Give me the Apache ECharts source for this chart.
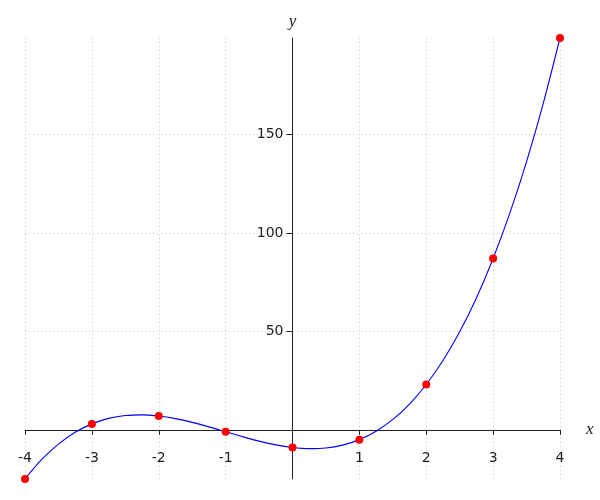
<!DOCTYPE html>
<html>
<head>
<meta charset="utf-8">
<script src="https://cdn.jsdelivr.net/npm/echarts@6/dist/echarts.min.js"></script>
<style>html,body{margin:0;padding:0;background:#fff}#c{width:600px;height:500px}</style>
</head>
<body>
<div id="c"></div>
<script>
// Sample points (red dots)
var pointX = [-4, -3, -2, -1, 0, 1, 2, 3, 4];
var pointY = [-25, 3, 7, -1, -9, -5, 23, 87, 199];

// Curve values
var curveX = [-4, -3.75, -3.5, -3.25, -3, -2.75, -2.5, -2.25, -2, -1.75, -1.5, -1.25, -1, -0.75, -0.5, -0.25, 0,
              0.25, 0.5, 0.75, 1, 1.25, 1.5, 1.75, 2, 2.25, 2.5, 2.75, 3, 3.25, 3.5, 3.75, 4];
var curveY = [-25, -15.09, -7.25, -1.28, 3, 5.78, 7.25, 7.59, 7, 5.66, 3.75, 1.47, -1, -3.47, -5.75, -7.66, -9,
              -9.59, -9.25, -7.78, -5, -0.72, 5.25, 13.09, 23, 35.16, 49.75, 66.97, 87, 110.03, 136.25, 165.84, 199];

// Tick values
var yTickValues = [50, 100, 150];
var xTickHidden = [0];

var curveData = curveX.map(function (x, i) { return [x, curveY[i]]; });
var pointData = pointX.map(function (x, i) { return [x, pointY[i]]; });

var labelFont = { fontFamily: 'DejaVu Sans', fontSize: 14, color: '#222' };
var nameFont = { fontFamily: 'Liberation Serif', fontStyle: 'italic', fontSize: 17, color: '#222' };

var G = { left: 25, right: 40, top: 38, bottom: 21 };
var XMIN = -4, XMAX = 4, YMIN = -25, YMAX = 199;
// axis offsets so that axes cross at the origin
var gw = 600 - G.left - G.right, gh = 500 - G.top - G.bottom;
var yAxisOffset = -((0 - XMIN) / (XMAX - XMIN)) * gw;
var xAxisOffset = -((0 - YMIN) / (YMAX - YMIN)) * gh;

var chart = echarts.init(document.getElementById('c'), null, { renderer: 'canvas' });
chart.setOption({
  animation: false,
  backgroundColor: '#fff',
  grid: { left: G.left, right: G.right, top: G.top, bottom: G.bottom, containLabel: false, outerBoundsMode: 'none' },
  xAxis: {
    type: 'value', min: XMIN, max: XMAX, interval: 1, position: 'bottom', offset: xAxisOffset,
    name: 'x', nameLocation: 'end', nameGap: 26, nameTextStyle: nameFont,
    axisLine: { onZero: false, lineStyle: { color: '#222', width: 1 } },
    axisTick: { show: true, length: 5, lineStyle: { color: '#222' } },
    axisLabel: Object.assign({ margin: 22, formatter: function (v) { return xTickHidden.indexOf(v) >= 0 ? '' : String(v); } }, labelFont),
    splitLine: { show: true, lineStyle: { color: '#c8c8c8', type: [1, 3], width: 1 } }
  },
  yAxis: {
    type: 'value', min: YMIN, max: YMAX, position: 'left', offset: yAxisOffset,
    name: 'y', nameLocation: 'end', nameGap: 8, nameTextStyle: nameFont,
    axisLine: { onZero: false, lineStyle: { color: '#222', width: 1 } },
    axisTick: { show: true, length: 6, customValues: yTickValues, lineStyle: { color: '#222' } },
    axisLabel: Object.assign({ margin: 9, customValues: yTickValues }, labelFont),
    splitLine: { show: true, lineStyle: { color: '#c8c8c8', type: [1, 3], width: 1 } }
  },
  series: [
    {
      type: 'line', data: curveData, smooth: 0.3, showSymbol: false, symbol: 'none',
      lineStyle: { color: '#0000ff', width: 1.1 }, z: 2
    },
    {
      type: 'scatter', data: pointData, symbol: 'circle', symbolSize: 8,
      itemStyle: { color: '#ff0000', opacity: 1 }, z: 3
    }
  ]
});
</script>
</body>
</html>
